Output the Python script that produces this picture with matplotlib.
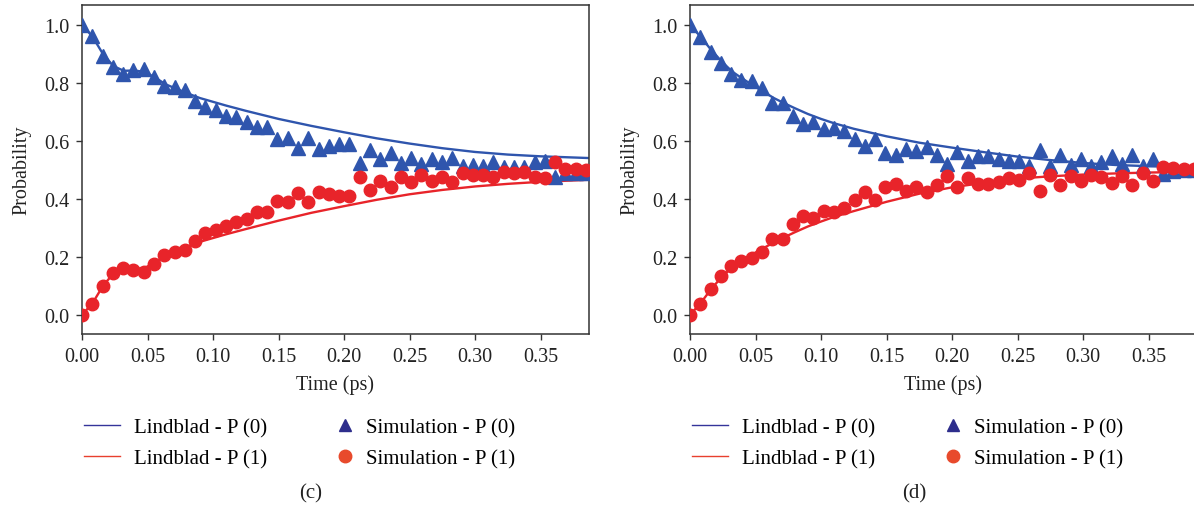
import matplotlib.pyplot as plt
from matplotlib.lines import Line2D
import numpy as np

plt.rcParams['font.family'] = ['Liberation Serif', 'DejaVu Serif']

# time of the simulation points (ps)
t_sim = np.arange(50) * 0.00785

# panel (c) simulation
sim_p0_c = [1.000, 0.961, 0.893, 0.855, 0.831, 0.845, 0.848, 0.820, 0.790, 0.786,
            0.776, 0.738, 0.717, 0.707, 0.686, 0.683, 0.666, 0.648, 0.648, 0.605,
            0.609, 0.577, 0.609, 0.572, 0.584, 0.590, 0.590, 0.523, 0.568, 0.537,
            0.557, 0.524, 0.540, 0.520, 0.537, 0.527, 0.540, 0.514, 0.517, 0.514,
            0.527, 0.510, 0.510, 0.510, 0.528, 0.531, 0.476, 0.490, 0.490, 0.490]
sim_p1_c = [0.000, 0.036, 0.099, 0.144, 0.161, 0.156, 0.149, 0.176, 0.208, 0.216,
            0.225, 0.256, 0.283, 0.294, 0.306, 0.320, 0.332, 0.356, 0.356, 0.394,
            0.391, 0.421, 0.391, 0.425, 0.417, 0.411, 0.411, 0.474, 0.432, 0.463,
            0.442, 0.475, 0.458, 0.481, 0.463, 0.475, 0.459, 0.491, 0.481, 0.483,
            0.475, 0.494, 0.491, 0.494, 0.475, 0.471, 0.528, 0.502, 0.503, 0.500]

# panel (d) simulation
sim_p0_d = [1.000, 0.960, 0.908, 0.869, 0.831, 0.811, 0.808, 0.784, 0.732, 0.731,
            0.685, 0.660, 0.666, 0.640, 0.645, 0.634, 0.608, 0.582, 0.608, 0.557,
            0.551, 0.572, 0.566, 0.578, 0.552, 0.521, 0.561, 0.532, 0.549, 0.547,
            0.536, 0.532, 0.532, 0.513, 0.570, 0.513, 0.552, 0.517, 0.538, 0.515,
            0.529, 0.547, 0.521, 0.552, 0.513, 0.538, 0.486, 0.495, 0.500, 0.500]
sim_p1_d = [0.000, 0.038, 0.090, 0.133, 0.168, 0.187, 0.195, 0.216, 0.262, 0.262,
            0.314, 0.340, 0.333, 0.360, 0.354, 0.368, 0.396, 0.423, 0.396, 0.440,
            0.450, 0.429, 0.440, 0.423, 0.448, 0.480, 0.440, 0.471, 0.452, 0.452,
            0.457, 0.471, 0.467, 0.490, 0.429, 0.483, 0.448, 0.478, 0.463, 0.483,
            0.475, 0.455, 0.480, 0.448, 0.490, 0.463, 0.510, 0.507, 0.503, 0.503]

# Lindblad curves
lind_t = [0, 0.008, 0.016, 0.024, 0.032, 0.040, 0.048, 0.056, 0.064, 0.072, 0.080,
          0.090, 0.100, 0.110, 0.125, 0.150, 0.175, 0.200, 0.225, 0.250, 0.275,
          0.300, 0.325, 0.350, 0.387]
lind_p0_c = [1.0, 0.96, 0.90, 0.858, 0.842, 0.843, 0.838, 0.818, 0.795, 0.780, 0.765,
             0.748, 0.735, 0.722, 0.704, 0.676, 0.652, 0.630, 0.609, 0.591, 0.575,
             0.562, 0.553, 0.547, 0.541]
lind_p1_c = [0.0, 0.04, 0.10, 0.143, 0.158, 0.158, 0.162, 0.182, 0.205, 0.220, 0.235,
             0.252, 0.265, 0.278, 0.296, 0.325, 0.352, 0.375, 0.397, 0.416, 0.431,
             0.443, 0.452, 0.459, 0.466]
lind_p0_d = [1.0, 0.96, 0.915, 0.875, 0.840, 0.815, 0.792, 0.770, 0.748, 0.730, 0.713,
             0.693, 0.676, 0.661, 0.642, 0.616, 0.594, 0.577, 0.561, 0.546, 0.534,
             0.524, 0.517, 0.513, 0.509]
lind_p1_d = [0.0, 0.04, 0.088, 0.13, 0.163, 0.188, 0.21, 0.23, 0.25, 0.268, 0.285,
             0.305, 0.322, 0.338, 0.358, 0.39, 0.418, 0.44, 0.456, 0.47, 0.478,
             0.484, 0.488, 0.491, 0.494]

xticks = [0.00, 0.05, 0.10, 0.15, 0.20, 0.25, 0.30, 0.35]
yticks = [0.0, 0.2, 0.4, 0.6, 0.8, 1.0]

blue = '#2f55ad'
red = '#e8242a'

W, H = 1194, 506
fig = plt.figure(figsize=(W / 100, H / 100), dpi=100)

panels = [
    (82, sim_p0_c, sim_p1_c, lind_p0_c, lind_p1_c, '(c)', 311),
    (690, sim_p0_d, sim_p1_d, lind_p0_d, lind_p1_d, '(d)', 914),
]

for left, p0, p1, l0, l1, tag, tagx in panels:
    ax = fig.add_axes([left / W, (H - 335) / H, 507 / W, 329 / H])
    ax.plot(lind_t, l0, color=blue, lw=1.7, zorder=2)
    ax.plot(lind_t, l1, color=red, lw=1.7, zorder=2)
    ax.plot(t_sim, p0, ls='none', marker='^', ms=9.5, color=blue, mec=blue, zorder=3)
    ax.plot(t_sim, p1, ls='none', marker='o', ms=9, color=red, mec=red, zorder=4)

    ax.set_xlim(0, 0.387)
    ax.set_ylim(-0.066, 1.069)
    ax.set_xticks(xticks)
    ax.set_xticklabels(['%.2f' % v for v in xticks])
    ax.set_yticks(yticks)
    ax.set_yticklabels(['%.1f' % v for v in yticks])
    ax.tick_params(direction='out', length=4, width=1, color='#333333',
                   labelsize=14.5, labelcolor='#222222', pad=5)
    for s in ax.spines.values():
        s.set_color('#333333')
        s.set_linewidth(1.1)
    ax.set_xlabel('Time (ps)', fontsize=14.5, color='#222222', labelpad=6)
    ax.set_ylabel('Probability', fontsize=14.5, color='#222222', labelpad=9)

    # legend, two columns placed separately
    line_handles = [Line2D([], [], color='#34349a', lw=1.0),
                    Line2D([], [], color='#e8402e', lw=1.0)]
    mark_handles = [Line2D([], [], ls='none', marker='^', ms=8, color='#2e2e8c'),
                    Line2D([], [], ls='none', marker='o', ms=9, color='#e84a2c')]
    fig.legend(line_handles, ['Lindblad - P (0)', 'Lindblad - P (1)'],
               loc='center left', bbox_to_anchor=((left + 2) / W, (H - 444) / H),
               frameon=False, fontsize=15, handlelength=1.75, handletextpad=0.65,
               borderpad=0, borderaxespad=0, labelspacing=0.55)
    fig.legend(mark_handles, ['Simulation - P (0)', 'Simulation - P (1)'],
               loc='center left', bbox_to_anchor=((left + 253) / W, (H - 444) / H),
               frameon=False, fontsize=15, handlelength=0.95, handletextpad=0.55,
               borderpad=0, borderaxespad=0, labelspacing=0.55)
    fig.text(tagx / W, (H - 494) / H, tag, ha='center', va='center',
             fontsize=15, color='#222222')

fig.savefig('out.png', dpi=100)
